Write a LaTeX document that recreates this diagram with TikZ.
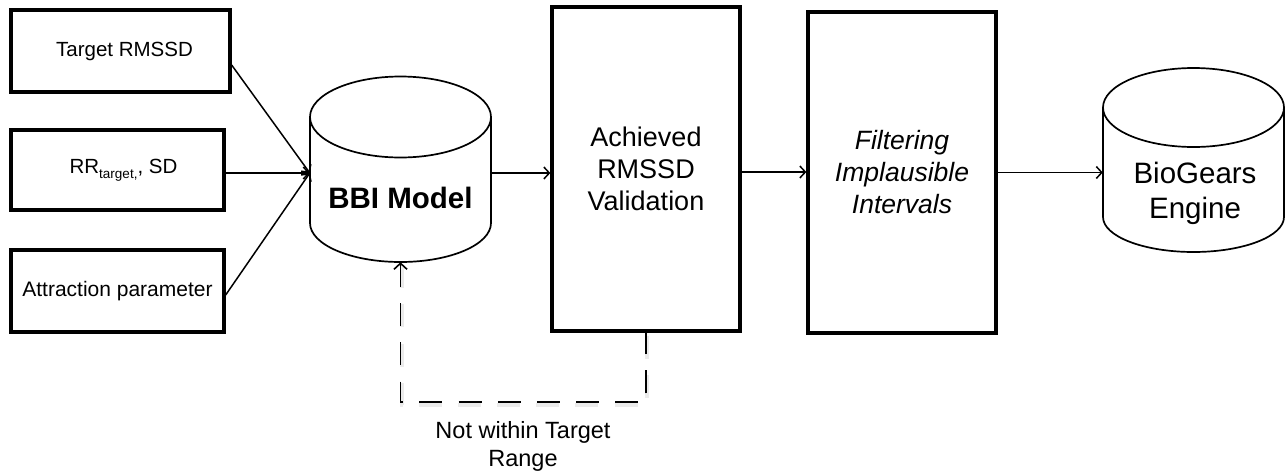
\documentclass[tikz,border=0pt]{standalone}
\usepackage{fontspec}
\setmainfont{Liberation Sans}
\usetikzlibrary{arrows.meta}
\newcommand\myfs[2]{\fontsize{#1}{#2}\selectfont}
\begin{document}
\begin{tikzpicture}[x=1pt,y=-1pt,
  thickbox/.style={draw, line width=3.3pt, inner sep=0pt, align=center},
  inbox/.style={thickbox, font=\myfs{20.5}{24}},
  cyl/.style={draw, line width=1.7pt},
  arr/.style={line width=1.5pt, -{Straight Barb[length=5.5pt,width=12pt,line width=1.5pt]}},
  revarr/.style={line width=1.9pt, {Straight Barb[length=6pt,width=13pt,line width=1.6pt]}-},
  dashline/.style={line width=1.9pt, dash pattern=on 23pt off 16.2pt},
  bigtext/.style={font=\myfs{27}{32}, align=center}
]
\useasboundingbox (0,0) rectangle (1286,472);

% input boxes
\node[inbox, minimum width=219, minimum height=82] (in1) at (120.5,51) {\hspace*{8pt}Target RMSSD};
\node[inbox, minimum width=213, minimum height=80] (in2) at (117.5,170) {\hspace*{12pt}RR\raisebox{-5pt}{\myfs{13.5}{13.5}target,}, SD};
\node[inbox, minimum width=213, minimum height=82, font=\myfs{21}{24}] (in3) at (117.5,291) {Attraction parameter};

% BBI model cylinder
\node[minimum width=181, minimum height=185, inner sep=0pt] (bbi) at (400.5,169.5) {};
\draw[cyl] (400.5,117) ellipse [x radius=90.5pt, y radius=40.5pt];
\draw[cyl] (310,117) -- (310,223) arc[start angle=180, end angle=360, x radius=90.5pt, y radius=39pt] -- (491,117);
\node[font=\myfs{29.5}{34}\bfseries] (bbitext) at (400.5,198) {BBI Model};

% validation box
\node[thickbox, bigtext, minimum width=188, minimum height=324] (val) at (646,169) {Achieved\\RMSSD\\Validation};

% filtering box
\node[thickbox, bigtext, font=\myfs{26.5}{32}\itshape, minimum width=188, minimum height=321] (filt) at (902,172.5) {Filtering\\Implausible\\Intervals};

% BioGears cylinder
\node[minimum width=181, minimum height=184, inner sep=0pt] (bio) at (1193.5,160) {};
\draw[cyl] (1193.5,107.5) ellipse [x radius=90.5pt, y radius=39.5pt];
\draw[cyl] (1103,107.5) -- (1103,217) arc[start angle=180, end angle=360, x radius=90.5pt, y radius=35pt] -- (1284,107.5);
\node[font=\myfs{29.5}{35}, align=center] (biotext) at (1195,193) {BioGears\\Engine};

% connectors
\draw[arr] ([yshift=-14pt]in1.east) -- ([yshift=-3.5pt]bbi.west);
\draw[arr] ([yshift=-3pt]in2.east) -- ([yshift=-3.5pt]bbi.west);
\draw[arr] ([yshift=-4pt]in3.east) -- ([yshift=-3.5pt]bbi.west);
\draw[arr] ([yshift=-3.5pt]bbi.east) -- ([yshift=-3.5pt]bbi.east -| val.west);
\draw[arr] ([yshift=-3pt]val.east) -- ([yshift=-3pt]val.east -| filt.west);
\draw[arr] (filt.east) -- (filt.east -| bio.west);

% feedback loop (with faint shadow)
\draw[dashline, black!8, line width=4pt, transform canvas={shift={(1pt,-3pt)}}] (bbi.south) -- (bbi.south |- 0,402) -| (val.south);
\draw[dashline, revarr] (bbi.south) -- (bbi.south |- 0,402) -| (val.south);
\node[font=\myfs{23.5}{28}, align=center] (lbl) at (523,446) {Not within Target\\Range};
\end{tikzpicture}
\end{document}
